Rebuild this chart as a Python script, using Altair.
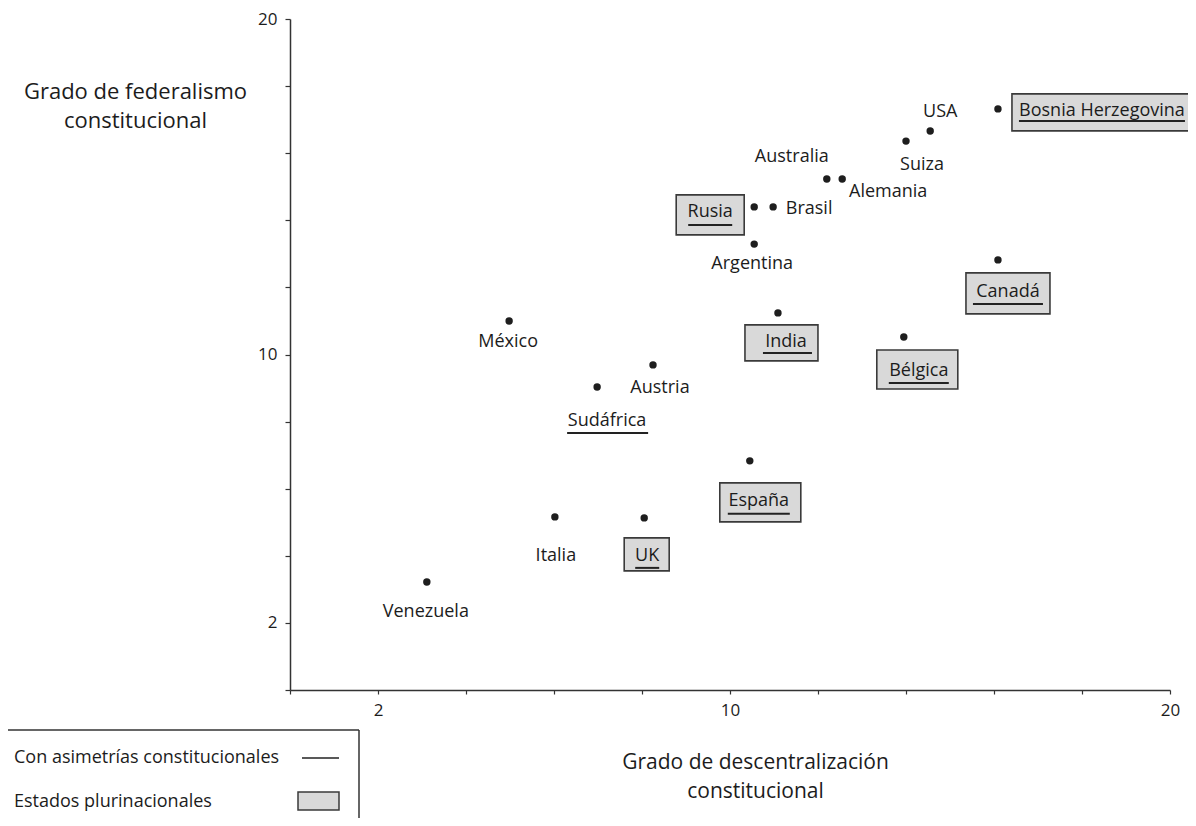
import altair as alt
import pandas as pd

# ---------------- data ----------------
paises = ["Bosnia Herzegovina", "USA", "Suiza", "Australia", "Alemania", "Rusia",
          "Brasil", "Argentina", "Canadá", "India", "Bélgica", "México", "Austria",
          "Sudáfrica", "España", "Italia", "UK", "Venezuela"]
descentralizacion = [16.09, 14.55, 14.0, 12.2, 12.55, 10.55, 10.98, 10.55, 16.09,
                     11.09, 13.95, 4.98, 8.25, 6.98, 10.45, 6.02, 8.05, 3.11]
federalismo = [17.32, 16.66, 16.36, 15.23, 15.23, 14.4, 14.4, 13.29, 12.82,
               11.24, 10.52, 11.0, 9.69, 9.03, 6.83, 5.16, 5.13, 3.22]
con_asimetrias = ["Bosnia Herzegovina", "Rusia", "Canadá", "India", "Bélgica",
                  "Sudáfrica", "España", "UK"]
plurinacionales = ["Bosnia Herzegovina", "Rusia", "Canadá", "India", "Bélgica",
                   "España", "UK"]
tick_values = list(range(0, 21, 2))
labelled_ticks = [2, 10, 20]
titulo_x = ["Grado de descentralización", "constitucional"]
titulo_y = ["Grado de federalismo", "constitucional"]
leyenda = ["Con asimetrías constitucionales", "Estados plurinacionales"]

df = pd.DataFrame({"pais": paises,
                   "descentralizacion": descentralizacion,
                   "federalismo": federalismo})

# ---------------- layout (pixel offsets relative to each dot) ----------------
label_offset = {
    "Bosnia Herzegovina": (104, 2), "USA": (10, -19), "Suiza": (16, 24),
    "Australia": (-35, -22), "Alemania": (46, 13), "Rusia": (-44, 5),
    "Brasil": (36, 2), "Argentina": (-2, 20), "Canadá": (10, 32),
    "India": (8, 29), "Bélgica": (15, 34), "México": (-1, 21),
    "Austria": (7, 23), "Sudáfrica": (10, 34), "España": (9, 40),
    "Italia": (1, 39), "UK": (3, 38), "Venezuela": (-1, 30),
}
box_geom = {  # left, top, right, bottom
    "Bosnia Herzegovina": (14, -15, 194, 22), "Rusia": (-78, -12, -10, 28),
    "Canadá": (-32, 13, 52, 54), "India": (-33, 12, 40, 48),
    "Bélgica": (-27, 13, 54, 52), "España": (-30, 22, 51, 61),
    "UK": (-20, 20, 25, 53),
}
underline_geom = {  # x1, x2, y
    "Bosnia Herzegovina": (21, 187, 12), "Rusia": (-66, -22, 18),
    "Canadá": (-25, 45, 44), "India": (-15, 34, 40), "Bélgica": (-15, 45, 46),
    "Sudáfrica": (-30, 51, 46), "España": (-22, 40, 53), "UK": (-9, 15, 50),
}

FONT = "Open Sans"
TXT = "#1c1c1c"
AX = "#333333"
label_expr = " || ".join(f"datum.value == {v}" for v in labelled_ticks)

x_enc = alt.X(
    "descentralizacion:Q",
    scale=alt.Scale(domain=[0, 20], nice=False, zero=False),
    axis=alt.Axis(values=tick_values, format="d",
                  labelExpr=f"({label_expr}) ? datum.label : ''",
                  grid=False, domainColor=AX, domainWidth=1.5, tickColor=AX,
                  tickWidth=1.2, tickSize=4, labelFont=FONT, labelFontSize=17,
                  labelColor=TXT, labelPadding=8, labelFlush=False,
                  labelOverlap=False, title=titulo_x, titleFont=FONT,
                  titleFontSize=21, titleFontWeight="normal", titleColor=TXT,
                  titleX=465, titleY=78, titleAlign="center",
                  titleBaseline="alphabetic", titleLineHeight=29))
y_enc = alt.Y(
    "federalismo:Q",
    scale=alt.Scale(domain=[0, 20], nice=False, zero=False),
    axis=alt.Axis(values=tick_values, format="d",
                  labelExpr=f"({label_expr}) ? datum.label : ''",
                  grid=False, domainColor=AX, domainWidth=1.5, tickColor=AX,
                  tickWidth=1.2, tickSize=5, labelFont=FONT, labelFontSize=17,
                  labelColor=TXT, labelPadding=8, labelFlush=False,
                  labelOverlap=False, title=titulo_y, titleFont=FONT,
                  titleFontSize=22, titleFontWeight="normal", titleColor=TXT,
                  titleAngle=0, titleX=-155, titleY=79, titleAlign="center",
                  titleBaseline="alphabetic", titleLineHeight=29))

base = alt.Chart(df)
layers = []

# boxes for plurinational states
for p in plurinacionales:
    l, t, r, b = box_geom[p]
    path = f"M{l},{t}H{r}V{b}H{l}Z"
    layers.append(
        base.transform_filter(alt.FieldEqualPredicate(field="pais", equal=p))
        .mark_point(shape=path, size=4, filled=True, fill="#d9d9d9",
                    stroke="#3a3a3a", strokeWidth=1.6, opacity=1)
        .encode(x=x_enc, y=y_enc))

# underlines for constitutional asymmetries
for p in con_asimetrias:
    u1, u2, uy = underline_geom[p]
    path = f"M{u1},{uy}H{u2}"
    layers.append(
        base.transform_filter(alt.FieldEqualPredicate(field="pais", equal=p))
        .mark_point(shape=path, size=4, filled=False, stroke="#222222",
                    strokeWidth=2, opacity=1)
        .encode(x=x_enc, y=y_enc))

# dots
layers.append(base.mark_circle(size=55, color="#1e1e1e", opacity=1)
              .encode(x=x_enc, y=y_enc))

# labels
for p in paises:
    dx, dy = label_offset[p]
    layers.append(
        base.transform_filter(alt.FieldEqualPredicate(field="pais", equal=p))
        .mark_text(dx=dx, dy=dy, align="center", baseline="middle", font=FONT,
                   fontSize=18, color=TXT)
        .encode(x=x_enc, y=y_enc, text="pais:N"))

# custom legend (bottom-left box)
leg_df = pd.DataFrame({"item": leyenda})
one = alt.Chart(pd.DataFrame({"k": [0]}))
layers.append(one.mark_rule(color=AX, strokeWidth=1.5)
              .encode(x=alt.value(-290), x2=alt.value(69), y=alt.value(711)))
layers.append(one.mark_rule(color=AX, strokeWidth=1.5)
              .encode(x=alt.value(69), y=alt.value(711), y2=alt.value(810)))
layers.append(alt.Chart(leg_df).transform_filter(
    alt.FieldEqualPredicate(field="item", equal=leyenda[0]))
    .mark_text(align="left", baseline="middle", font=FONT, fontSize=18, color=TXT)
    .encode(x=alt.value(-276), y=alt.value(739), text="item:N"))
layers.append(alt.Chart(leg_df).transform_filter(
    alt.FieldEqualPredicate(field="item", equal=leyenda[1]))
    .mark_text(align="left", baseline="middle", font=FONT, fontSize=18, color=TXT)
    .encode(x=alt.value(-276), y=alt.value(783), text="item:N"))
layers.append(one.mark_rule(color="#222222", strokeWidth=1.5)
              .encode(x=alt.value(12), x2=alt.value(49), y=alt.value(739)))
layers.append(one.mark_rect(fill="#d9d9d9", stroke="#3a3a3a", strokeWidth=1.5)
              .encode(x=alt.value(8), x2=alt.value(49), y=alt.value(773),
                      y2=alt.value(791)))

chart = alt.layer(*layers).properties(
    width=880, height=671,
    autosize=alt.AutoSizeParams(type="none"),
    padding={"left": 282, "top": 11, "right": 18, "bottom": 128},
    background="white",
).configure_view(stroke=None)

chart.save("out.html", embed_options={"renderer": "svg", "actions": False})
